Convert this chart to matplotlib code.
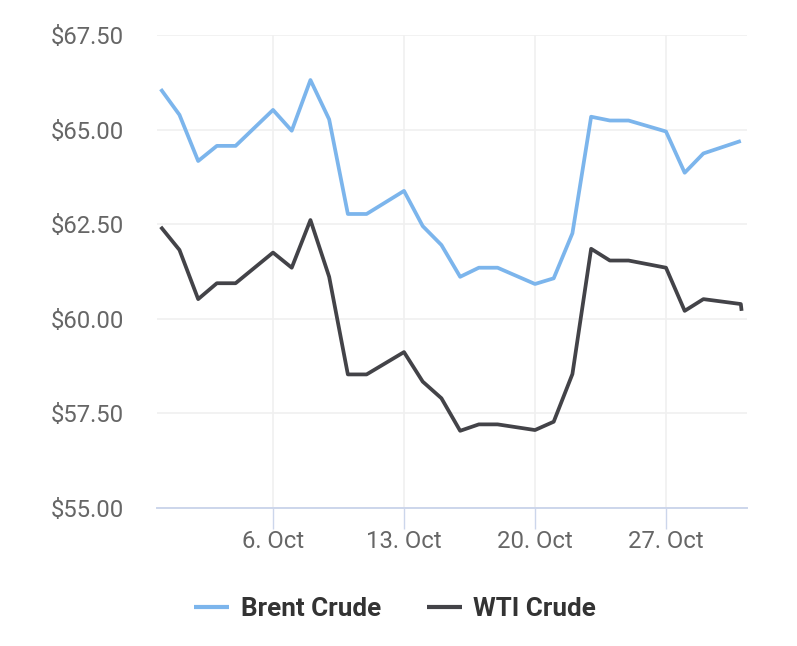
import pandas as pd
import numpy as np
import matplotlib.pyplot as plt
import matplotlib.dates as mdates

# Données (prix du baril, octobre 2019)
brent_dates = ['2019-09-30', '2019-10-01', '2019-10-02', '2019-10-03', '2019-10-04',
               '2019-10-06', '2019-10-07', '2019-10-08', '2019-10-09', '2019-10-10',
               '2019-10-11', '2019-10-13', '2019-10-14', '2019-10-15', '2019-10-16',
               '2019-10-17', '2019-10-18', '2019-10-20', '2019-10-21', '2019-10-22',
               '2019-10-23', '2019-10-24', '2019-10-25', '2019-10-27', '2019-10-28',
               '2019-10-29', '2019-10-31']
brent = [66.07, 65.39, 64.17, 64.57, 64.57,
         65.52, 64.97, 66.31, 65.27, 62.77,
         62.77, 63.38, 62.45, 61.95, 61.11,
         61.35, 61.35, 60.92, 61.07, 62.26,
         65.34, 65.24, 65.24, 64.95, 63.86,
         64.37, 64.70]

wti_dates = brent_dates + ['2019-10-31 01:00']
wti = [62.43, 61.82, 60.52, 60.94, 60.94,
       61.75, 61.35, 62.61, 61.11, 58.53,
       58.53, 59.12, 58.34, 57.90, 57.04,
       57.21, 57.21, 57.06, 57.28, 58.54,
       61.85, 61.54, 61.54, 61.35, 60.21,
       60.52, 60.39, 60.21]

y_ticks = [55.0, 57.5, 60.0, 62.5, 65.0, 67.5]
x_ticks = ['2019-10-06', '2019-10-13', '2019-10-20', '2019-10-27']

brent_x = pd.to_datetime(brent_dates, format='mixed')
wti_x = pd.to_datetime(wti_dates, format='mixed')

plt.rcParams['font.family'] = ['Roboto', 'DejaVu Sans']

fig = plt.figure(figsize=(7.97, 6.46), dpi=100)
ax = fig.add_axes([157 / 797, 1 - 508 / 646, 590 / 797, 473 / 646])

ax.plot(brent_x, brent, color='#7cb5ec', linewidth=2.7, label='Brent Crude',
        solid_joinstyle='round', solid_capstyle='butt')
ax.plot(wti_x, wti, color='#434348', linewidth=2.7, label='WTI Crude',
        solid_joinstyle='round', solid_capstyle='butt')

# Axes
ax.set_ylim(55, 67.5)
x0 = mdates.date2num(pd.Timestamp('2019-09-30')) - 0.2
ax.set_xlim(x0, x0 + 31.53)
ax.set_yticks(y_ticks)
ax.set_yticklabels([f"${v:.2f}" for v in y_ticks])
ax.set_xticks(pd.to_datetime(x_ticks))
ax.set_xticklabels([f"{pd.Timestamp(d).day}. Oct" for d in x_ticks])

for s in ['top', 'right', 'left']:
    ax.spines[s].set_visible(False)
ax.spines['bottom'].set_color('#ccd6eb')
ax.spines['bottom'].set_linewidth(1.4)

ax.tick_params(axis='y', length=0, pad=24, labelsize=17.2, labelcolor='#666666')
ax.tick_params(axis='x', length=15, width=1, color='#ccd6eb', pad=1,
               labelsize=17.2, labelcolor='#666666')

ax.grid(True, axis='y', color='#f0f0f0', linewidth=1.2)
ax.grid(True, axis='x', color='#f0f0f0', linewidth=1.2)
ax.set_axisbelow(True)

leg = fig.legend(loc='center', bbox_to_anchor=(0.496, 1 - 609 / 646), ncol=2,
                 frameon=False, handlelength=1.35, handletextpad=0.45,
                 columnspacing=1.75, prop={'weight': 'bold', 'size': 18.7})
for t in leg.get_texts():
    t.set_color('#333333')
for h in leg.get_lines():
    h.set_linewidth(3.0)

fig.savefig('out.png', dpi=100)
